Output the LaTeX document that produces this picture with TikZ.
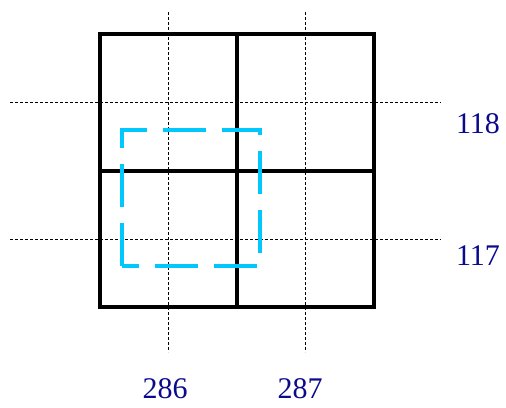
\documentclass[tikz,border=0pt]{standalone}
\usepackage{fontspec}
\setmainfont{Liberation Serif}
\definecolor{lblblue}{RGB}{10,10,140}
\definecolor{cyanbox}{RGB}{0,200,255}
\begin{document}
\begin{tikzpicture}[x=1pt,y=-1pt,
  gridline/.style={line width=4pt,black},
  guide/.style={line width=0.8pt,black,dash pattern=on 3pt off 2pt},
  marker/.style={line width=4pt,cyanbox,dash pattern=on 43pt off 16pt},
  lbl/.style={text=lblblue,font=\fontsize{30}{31}\selectfont,inner sep=0pt,anchor=center}]
\useasboundingbox (0,0) rectangle (506,407);
% guides
\draw[guide] (168,12) -- (168,352);
\draw[guide] (305,12) -- (305,352);
\draw[guide] (10,102) -- (441,102);
\draw[guide] (10,239) -- (441,239);
% grid
\draw[gridline] (100,34) rectangle (374,307);
\draw[gridline] (237,34) -- (237,307);
\draw[gridline] (100,171) -- (374,171);
% dashed box
\draw[marker] (122,266) -- (122,130) -- (260,130) -- (260,266) -- cycle;
% labels
\node[lbl] (r118) at (478,124) {118};
\node[lbl] (r117) at (478,256) {117};
\node[lbl] (c286) at (165,389) {286};
\node[lbl] (c287) at (300,389) {287};
\end{tikzpicture}
\end{document}
